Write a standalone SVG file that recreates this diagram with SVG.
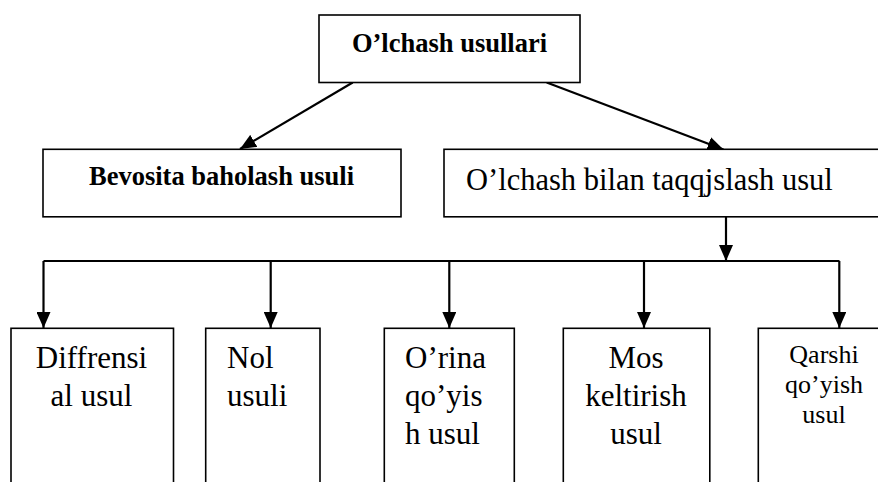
<svg xmlns="http://www.w3.org/2000/svg" width="878" height="482" viewBox="0 0 878 482">
<defs>
<marker id="arr" markerUnits="userSpaceOnUse" markerWidth="16" markerHeight="14" viewBox="0 0 16 14" refX="16" refY="7" orient="auto">
<path d="M0,0 L16,7 L0,14 z" fill="#000"/>
</marker>
<style>
.box{fill:#fff;stroke:#000;stroke-width:1.6}
.con{fill:none;stroke:#000;stroke-width:2.2}
.arrow{marker-end:url(#arr)}
text{font-family:'Liberation Serif','Times New Roman','DejaVu Serif',serif;fill:#000}
.b{font-weight:bold;font-size:26.5px}
.r{font-size:30.5px}
.m{font-size:31px}
.s{font-size:26px}
</style>
</defs>
<rect width="878" height="482" fill="#fff"/>
<g id="connectors">
<path class="con arrow" d="M352.7,82.5 L240,149"/>
<path class="con arrow" d="M546.7,82.5 L723.5,149.5"/>
<path class="con arrow" d="M726,217 L726,261"/>
<path class="con" d="M43.5,261 H839.5"/>
<path class="con arrow" d="M43.5,261 V328"/>
<path class="con arrow" d="M270.7,261 V328"/>
<path class="con arrow" d="M449.3,261 V328"/>
<path class="con arrow" d="M644,261 V328"/>
<path class="con arrow" d="M839.3,261 V328"/>
</g>
<g id="n-root">
<rect class="box" x="319" y="15" width="261" height="67.5"/>
<text class="b" x="449.5" y="51.7" text-anchor="middle" font-family="Liberation Serif, serif">O’lchash usullari</text>
</g>
<g id="n-bevosita">
<rect class="box" x="43" y="149.3" width="358" height="67.5"/>
<text class="b" x="221.5" y="185" text-anchor="middle" font-family="Liberation Serif, serif">Bevosita baholash usuli</text>
</g>
<g id="n-taqqoslash">
<rect class="box" x="444" y="149.3" width="450" height="67.5"/>
<text class="r" x="466" y="190" font-family="Liberation Serif, serif">O’lchash bilan taqqjslash usul</text>
</g>
<g id="n-diff">
<rect class="box" x="11" y="328.3" width="162.5" height="170"/>
<text class="m" text-anchor="middle" font-family="Liberation Serif, serif"><tspan x="91.5" y="368.3">Diffrensi</tspan><tspan x="91.5" y="406">al usul</tspan></text>
</g>
<g id="n-nol">
<rect class="box" x="205.7" y="328.3" width="114.3" height="170"/>
<text class="m" font-family="Liberation Serif, serif"><tspan x="227" y="368.3">Nol</tspan><tspan x="227" y="406">usuli</tspan></text>
</g>
<g id="n-orina">
<rect class="box" x="384.3" y="328.3" width="130" height="170"/>
<text class="m" font-family="Liberation Serif, serif"><tspan x="405" y="368.3">O’rina</tspan><tspan x="405" y="406">qo’yis</tspan><tspan x="405" y="443.5">h usul</tspan></text>
</g>
<g id="n-mos">
<rect class="box" x="563.3" y="328.3" width="146.5" height="170"/>
<text class="m" text-anchor="middle" font-family="Liberation Serif, serif"><tspan x="636" y="368.3">Mos</tspan><tspan x="636" y="406">keltirish</tspan><tspan x="636" y="443.5">usul</tspan></text>
</g>
<g id="n-qarshi">
<rect class="box" x="758.3" y="328.3" width="140" height="170"/>
<text class="s" text-anchor="middle" font-family="Liberation Serif, serif"><tspan x="824" y="363.3">Qarshi</tspan><tspan x="824" y="393.3">qo’yish</tspan><tspan x="824" y="423.3">usul</tspan></text>
</g>
</svg>
